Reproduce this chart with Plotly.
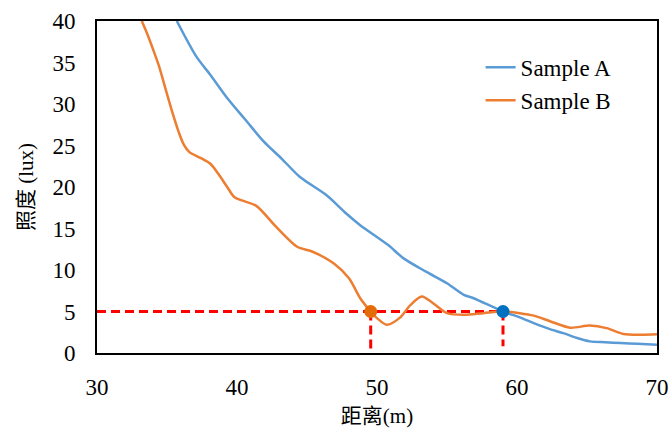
import plotly.graph_objects as go

# Sample A (blue)
a_x = [35.7, 37.1, 38.1, 39.4, 40.6, 41.9, 43.2, 44.5, 46.4, 47.8, 48.8, 50.8, 51.9, 53.5, 55.0, 56.2, 56.9, 59.0, 60.2, 61.2, 62.3, 63.3, 64.3, 65.2, 66.3, 67.4, 68.6, 70.0]
a_y = [40.0, 35.7, 33.5, 30.5, 28.1, 25.5, 23.4, 21.2, 19.0, 16.8, 15.4, 13.0, 11.4, 9.8, 8.4, 7.0, 6.6, 5.0, 4.3, 3.6, 2.9, 2.4, 1.8, 1.4, 1.3, 1.2, 1.1, 1.0]

# Sample B (orange)
b_x = [33.2, 33.6, 34.0, 34.4, 34.9, 35.4, 35.8, 36.2, 36.6, 37.4, 38.1, 38.7, 39.3, 39.8, 40.4, 41.4, 42.8, 44.3, 45.4, 46.9, 48.0, 48.8, 49.55, 50.0, 50.7, 51.6, 52.4, 53.2, 54.0, 55.0, 56.2, 57.6, 59.0, 60.2, 61.2, 62.4, 63.8, 65.2, 66.4, 67.6, 68.8, 70.0]
b_y = [40.0, 38.4, 36.6, 34.7, 31.8, 28.9, 26.8, 25.1, 24.2, 23.5, 22.8, 21.5, 20.0, 18.8, 18.35, 17.7, 15.2, 12.8, 12.2, 10.8, 9.0, 6.6, 5.0, 4.2, 3.4, 4.2, 5.8, 6.8, 6.0, 4.8, 4.6, 4.8, 5.0, 4.8, 4.5, 3.8, 3.05, 3.3, 3.0, 2.3, 2.2, 2.25]

# Threshold and crossing points
threshold = 5
cross_x = [49.55, 59.0]
cross_bottom = [0, 0.8]
axis_min_x = 30

x_ticks = [30, 40, 50, 60, 70]
y_ticks = [0, 5, 10, 15, 20, 25, 30, 35, 40]

BLUE = "#5B9BD5"
ORANGE = "#ED7D31"
RED = "#FF0000"
FONT = "Liberation Serif, Times New Roman, Noto Sans CJK SC, serif"
FS = 23

fig = go.Figure()

# Red dashed guide lines
fig.add_trace(go.Scatter(x=[axis_min_x, max(cross_x)], y=[threshold, threshold], mode="lines",
                         line=dict(color=RED, width=3, dash="9px,5px"), showlegend=False, hoverinfo="skip"))
for cx, cb in zip(cross_x, cross_bottom):
    fig.add_trace(go.Scatter(x=[cx, cx], y=[threshold, cb], mode="lines",
                             line=dict(color=RED, width=3, dash="9px,5px"), showlegend=False, hoverinfo="skip"))

fig.add_trace(go.Scatter(x=a_x, y=a_y, mode="lines", name="Sample A", legendgroup="a",
                         line=dict(color=BLUE, width=2.5, shape="spline", smoothing=0.8)))
fig.add_trace(go.Scatter(x=b_x, y=b_y, mode="lines", name="Sample B", legendgroup="b",
                         line=dict(color=ORANGE, width=2.5, shape="spline", smoothing=0.8)))

# Crossing markers
fig.add_trace(go.Scatter(x=[cross_x[0]], y=[threshold], mode="markers",
                         marker=dict(color="#E36C09", size=13), showlegend=False))
fig.add_trace(go.Scatter(x=[cross_x[1]], y=[threshold], mode="markers",
                         marker=dict(color="#0070C0", size=13), showlegend=False))

fig.update_layout(
    width=672, height=428,
    margin=dict(l=97, r=15, t=21, b=75, autoexpand=False),
    paper_bgcolor="white", plot_bgcolor="white",
    font=dict(family=FONT, size=FS, color="black"),
    legend=dict(x=0.685, y=0.925, xanchor="left", yanchor="top",
                bgcolor="rgba(0,0,0,0)", tracegroupgap=0,
                font=dict(family=FONT, size=FS, color="black")),
)
fig.update_xaxes(range=[30, 70], tickvals=x_ticks, showgrid=False, zeroline=False,
                 showline=True, linecolor="black", linewidth=2, mirror=True,
                 ticks="", ticklabelstandoff=12, automargin=False,
                 title=dict(text="距离(m)", standoff=12, font=dict(size=21)))
fig.update_yaxes(range=[0, 40], tickvals=y_ticks, showgrid=False, zeroline=False,
                 showline=True, linecolor="black", linewidth=2, mirror=True,
                 ticks="", ticklabelstandoff=15, automargin=False,
                 title=dict(text="照度 (lux)", standoff=13, font=dict(size=21)))

fig.write_html("out.html")
